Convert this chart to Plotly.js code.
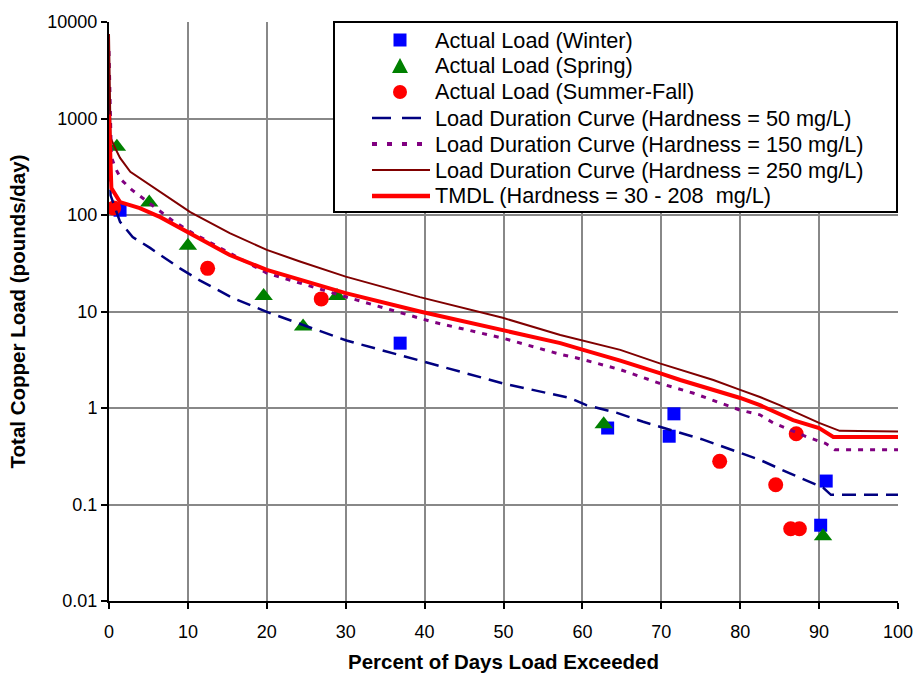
<!DOCTYPE html>
<html>
<head>
<meta charset="utf-8">
<script src="https://cdn.plot.ly/plotly-3.0.1.min.js"></script>
<style>html,body{margin:0;padding:0;background:#fff;}#chart{width:917px;height:673px;}</style>
</head>
<body>
<div id="chart"></div>
<script>
// Actual loads (percent of days exceeded, pounds/day)
const winterX = [1.4, 36.9, 63.2, 71.6, 71.0, 90.9, 90.2];
const winterY = [112, 4.7, 0.62, 0.87, 0.51, 0.175, 0.061];
const springX = [1.0, 5.1, 10.0, 19.6, 24.6, 28.9, 62.7, 90.5];
const springY = [510, 135, 48, 14.5, 7.0, 14.5, 0.68, 0.047];
const summerX = [0.6, 12.5, 26.9, 77.4, 84.5, 86.4, 87.5, 87.1];
const summerY = [118, 28, 13.5, 0.28, 0.16, 0.056, 0.056, 0.54];

// Load duration curves
const ldc50X = [0, 0.2, 1.4, 3, 5.2, 9, 11.5, 15.7, 20, 30.1, 39.4, 49.9, 58.4, 60.5, 64.4, 67.7, 75.3, 82.5, 86.3, 90.5, 91.5, 100];
const ldc50Y = [1500, 160, 85, 59, 45.6, 28, 21, 13.8, 9.9, 5.0, 3.1, 1.8, 1.27, 1.07, 0.89, 0.72, 0.47, 0.29, 0.21, 0.15, 0.126, 0.126];

const ldc150X = [0, 0.3, 0.8, 1.6, 2.9, 4.2, 8.1, 10.6, 20, 30.5, 37.3, 41, 49.9, 57.2, 59.3, 64.8, 69.8, 74, 80, 82.5, 84.2, 88.5, 90.8, 92, 100];
const ldc150Y = [5000, 400, 307, 230, 182, 151, 87, 65, 25, 13.8, 9.6, 7.8, 5.3, 3.6, 3.3, 2.5, 1.8, 1.43, 0.95, 0.85, 0.70, 0.50, 0.43, 0.37, 0.37];

const ldc250X = [0, 0.2, 0.8, 1.4, 2.7, 3.9, 5.2, 6.2, 10.3, 15.3, 20, 24.2, 30, 39.4, 49.9, 57.2, 60.1, 64.8, 69.8, 76.6, 80, 82.5, 85, 90, 92.6, 100];
const ldc250Y = [7500, 630, 490, 390, 280, 240, 204, 182, 107, 65, 43.5, 33, 23, 14.1, 8.6, 5.7, 5.0, 4.0, 2.9, 1.95, 1.54, 1.3, 1.07, 0.70, 0.58, 0.57];

const tmdlX = [0, 0.3, 1.4, 3.9, 6.5, 10.3, 15.3, 20, 23.8, 30, 39.4, 49.9, 57.2, 60.1, 64.8, 69.8, 72.4, 80, 82.5, 86.7, 90, 91.8, 100];
const tmdlY = [1100, 190, 136, 118, 95, 65, 38.5, 27, 21.7, 15.5, 10, 6.4, 4.7, 4.0, 3.1, 2.3, 1.95, 1.27, 1.07, 0.75, 0.62, 0.5, 0.5];

const seriesNames = [
  "Actual Load (Winter)",
  "Actual Load (Spring)",
  "Actual Load (Summer-Fall)",
  "Load Duration Curve (Hardness = 50 mg/L)",
  "Load Duration Curve (Hardness = 150 mg/L)",
  "Load Duration Curve (Hardness = 250 mg/L)",
  "TMDL (Hardness = 30 - 208  mg/L)"
];

const yTickVals = [0.01, 0.1, 1, 10, 100, 1000, 10000];
const yTickText = ["0.01", "0.1", "1", "10", "100", "1000", "10000"];
const xTickVals = [0, 10, 20, 30, 40, 50, 60, 70, 80, 90, 100];

const FONT = "Liberation Sans, Arial, sans-serif";
const W = 917, H = 673;
const M = {l: 109, r: 19, t: 22, b: 72};
const PW = W - M.l - M.r, PH = H - M.t - M.b;
const px2x = p => (p - M.l) / PW;
const py2y = p => (H - M.b - p) / PH;

const styles = [
  {kind: "marker", symbol: "square", size: 13, color: "#0000FF"},
  {kind: "marker", symbol: "triangle-up", size: 16, color: "#008000"},
  {kind: "marker", symbol: "circle", size: 15, color: "#FF0000"},
  {kind: "line", color: "#000080", width: 2.5, dash: "14px,8px", legendDash: "19px,11px", legendWidth: 2.5},
  {kind: "line", color: "#800080", width: 3, dash: "5px,7px", legendDash: "5px,10px", legendWidth: 4},
  {kind: "line", color: "#800000", width: 2, dash: "solid", legendDash: "solid", legendWidth: 2},
  {kind: "line", color: "#FF0000", width: 4, dash: "solid", legendDash: "solid", legendWidth: 4.5}
];
const seriesX = [winterX, springX, summerX, ldc50X, ldc150X, ldc250X, tmdlX];
const seriesY = [winterY, springY, summerY, ldc50Y, ldc150Y, ldc250Y, tmdlY];

const traces = seriesNames.map((name, i) => {
  const s = styles[i];
  if (s.kind === "marker") {
    return {x: seriesX[i], y: seriesY[i], mode: "markers", name, showlegend: false,
            marker: {symbol: s.symbol, size: s.size, color: s.color}};
  }
  return {x: seriesX[i], y: seriesY[i], mode: "lines", name, showlegend: false,
          line: {color: s.color, width: s.width, dash: s.dash}};
});

// Legend drawn as layout shapes/annotations (box, samples, labels)
const shapes = [{type: "rect", xref: "paper", yref: "paper", x0: px2x(334), x1: px2x(897), y0: py2y(212), y1: py2y(22),
                 fillcolor: "#ffffff", line: {color: "#000000", width: 2}, layer: "above"}];
const annotations = [];
seriesNames.forEach((name, i) => {
  const s = styles[i];
  const cy = 40 + 26 * i;
  annotations.push({xref: "paper", yref: "paper", x: px2x(433), y: py2y(cy), xanchor: "left", yanchor: "middle",
                    text: name, showarrow: false, font: {family: FONT, size: 21.7, color: "#000"}});
  if (s.kind === "line") {
    shapes.push({type: "line", xref: "paper", yref: "paper", x0: px2x(372), x1: px2x(430), y0: py2y(cy), y1: py2y(cy),
                 line: {color: s.color, width: s.legendWidth, dash: s.legendDash}, layer: "above"});
  } else if (s.symbol === "square") {
    shapes.push({type: "rect", xref: "paper", yref: "paper", x0: px2x(393.5), x1: px2x(406.5), y0: py2y(cy + 6.5), y1: py2y(cy - 6.5),
                 fillcolor: s.color, line: {width: 0}, layer: "above"});
  } else if (s.symbol === "circle") {
    shapes.push({type: "circle", xref: "paper", yref: "paper", x0: px2x(393), x1: px2x(407), y0: py2y(cy + 7), y1: py2y(cy - 7),
                 fillcolor: s.color, line: {width: 0}, layer: "above"});
  } else {
    const p = `M${px2x(392)},${py2y(cy + 7)} L${px2x(408)},${py2y(cy + 7)} L${px2x(400)},${py2y(cy - 8)} Z`;
    shapes.push({type: "path", xref: "paper", yref: "paper", path: p, fillcolor: s.color, line: {width: 0}, layer: "above"});
  }
});

const layout = {
  width: W, height: H,
  margin: M,
  paper_bgcolor: "#ffffff", plot_bgcolor: "#ffffff",
  font: {family: FONT, color: "#000000", size: 18},
  showlegend: false,
  xaxis: {range: [0, 100], tickvals: xTickVals, ticks: "outside", ticklen: 6, tickwidth: 2, tickcolor: "#000",
          ticklabelstandoff: 7,
          showline: true, linecolor: "#000", linewidth: 2, showgrid: true, gridcolor: "#888888", gridwidth: 2,
          zeroline: false, tickfont: {family: FONT, size: 18},
          title: {text: "<b>Percent of Days Load Exceeded</b>", font: {family: FONT, size: 20.5}, standoff: 16}},
  yaxis: {type: "log", range: [-2, 4], tickvals: yTickVals, ticktext: yTickText, ticks: "outside", ticklen: 6,
          tickwidth: 2, tickcolor: "#000", showline: true, linecolor: "#000", linewidth: 2,
          showgrid: true, gridcolor: "#888888", gridwidth: 2, zeroline: false,
          tickfont: {family: FONT, size: 18},
          title: {text: "<b>Total Copper Load (pounds/day)</b>", font: {family: FONT, size: 20.5}, standoff: 16}},
  shapes, annotations
};

Plotly.newPlot("chart", traces, layout, {displayModeBar: false, staticPlot: true});
</script>
</body>
</html>
